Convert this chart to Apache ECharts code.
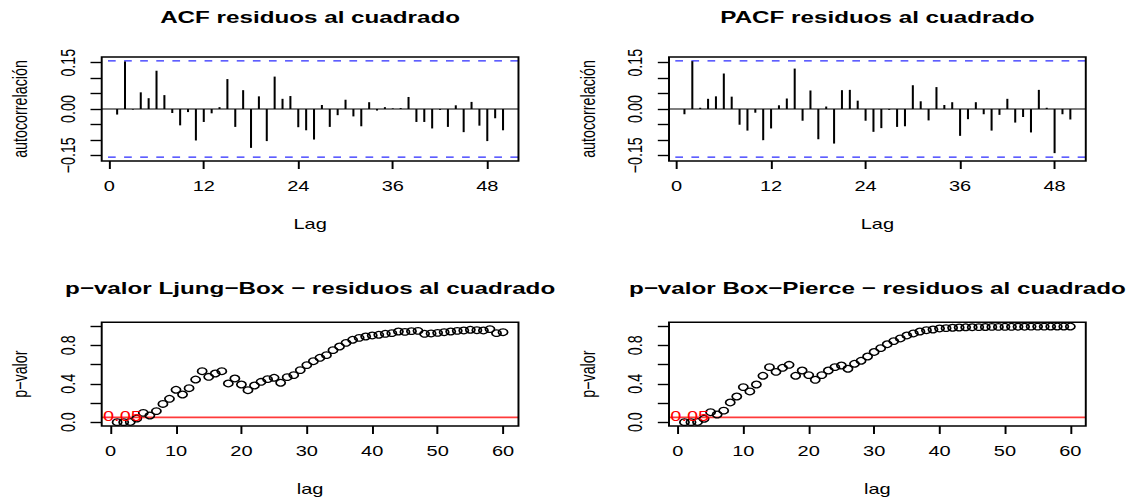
<!DOCTYPE html>
<html><head><meta charset="utf-8">
<script src="https://cdn.jsdelivr.net/npm/echarts@6/dist/echarts.min.js"></script>
<style>
html,body{margin:0;padding:0;background:#fff;overflow:hidden;}
#wrap{width:1135px;height:502px;overflow:hidden;background:#fff;}
#chart{width:811px;height:502px;transform:scaleX(1.39951);transform-origin:0 0;}
</style></head><body><div id="wrap"><div id="chart"></div></div>
<script>
// ---- data ----
const acfValues = [-0.018,0.154,-0.002,0.054,0.035,0.124,0.045,-0.013,-0.053,-0.010,
  -0.102,-0.042,-0.014,0.006,0.097,-0.058,0.061,-0.126,0.041,-0.104,
  0.105,0.033,0.042,-0.059,-0.069,-0.099,0.013,-0.058,-0.020,0.030,
  -0.024,-0.056,0.022,-0.005,0.006,0.002,0.003,0.039,-0.042,-0.042,
  -0.063,-0.003,-0.058,0.012,-0.075,0.023,-0.054,-0.104,-0.030,-0.069];
const pacfValues = [-0.017,0.155,0.004,0.033,0.041,0.115,0.040,-0.051,-0.070,-0.012,
  -0.101,-0.063,0.012,0.034,0.131,-0.038,0.060,-0.098,0.008,-0.112,
  0.061,0.062,0.027,-0.038,-0.074,-0.062,-0.003,-0.058,-0.056,0.077,
  0.025,-0.037,0.071,0.013,0.022,-0.087,-0.033,0.022,-0.017,-0.070,
  -0.019,0.033,-0.044,-0.026,-0.076,0.062,0.004,-0.143,-0.017,-0.034];
const ljungBoxP = [0.000,0.000,0.002,0.038,0.097,0.069,0.115,0.190,0.243,0.337,
  0.288,0.354,0.444,0.531,0.472,0.507,0.531,0.403,0.455,0.392,
  0.333,0.382,0.420,0.448,0.462,0.410,0.469,0.490,0.542,0.594,
  0.635,0.670,0.698,0.750,0.788,0.826,0.858,0.878,0.892,0.903,
  0.910,0.920,0.927,0.944,0.940,0.948,0.951,0.920,0.924,0.930,
  0.937,0.944,0.951,0.955,0.962,0.958,0.955,0.969,0.927,0.937];
const boxPierceP = [0.000,0.000,0.002,0.035,0.104,0.080,0.120,0.205,0.267,0.365,
  0.320,0.392,0.483,0.573,0.524,0.566,0.597,0.483,0.538,0.490,
  0.441,0.490,0.538,0.573,0.590,0.556,0.608,0.639,0.684,0.731,
  0.771,0.812,0.844,0.872,0.903,0.924,0.944,0.958,0.965,0.976,
  0.979,0.983,0.986,0.988,0.989,0.990,0.991,0.992,0.992,0.993,
  0.993,0.994,0.994,0.995,0.995,0.995,0.996,0.996,0.996,0.996];
const ciLevel = 0.156;
const pThreshold = 0.05;
const acfLagTicks = [0,12,24,36,48];
const pLagTicks = [0,10,20,30,40,50,60];
const acfYTicks = [-0.15,-0.10,-0.05,0,0.05,0.10,0.15];
const acfYLabels = [-0.15,0,0.15];
const pYTicks = [0,0.2,0.4,0.6,0.8,1.0];
const pYLabels = [0,0.4,0.8];
const acfXRange = [-0.96, 51.96];
const pXRange = [-1.36, 62.36];
const acfYRange = [-0.1685, 0.1685];
const pYRange = [-0.04, 1.04];
const titles = ['ACF residuos al cuadrado','PACF residuos al cuadrado',
  'p\u2212valor Ljung\u2212Box \u2212 residuos al cuadrado',
  'p\u2212valor Box\u2212Pierce \u2212 residuos al cuadrado'];

// ---- layout (unstretched coordinates) ----
const FONT = '"Liberation Sans", Arial, Helvetica, sans-serif';
const AX = 14.3;
const L = [72.67, 478.03], W = 297.8;
const TOPS = [57, 322.3], HS = [104, 103.7];

const chart = echarts.init(document.getElementById('chart'), null, {renderer:'svg'});

function grid(col,row){
  return {left:L[col], top:TOPS[row], width:W, height:HS[row], show:true,
    borderColor:'#000', borderWidth:1.4, backgroundColor:'rgba(0,0,0,0)',
    outerBoundsMode:'none', containLabel:false, z:5};
}
function xAxis(gi,range,ticks,name){
  return {type:'value', gridIndex:gi, min:range[0], max:range[1], name:name,
    nameLocation:'middle', nameGap:56,
    nameTextStyle:{fontSize:AX, color:'#000', fontFamily:FONT},
    axisLine:{show:false, onZero:false},
    axisTick:{show:true, length:8, customValues:ticks, lineStyle:{color:'#000', width:1.4}},
    axisLabel:{show:true, customValues:ticks, margin:18, fontSize:AX, color:'#000', fontFamily:FONT},
    splitLine:{show:false}};
}
function yAxis(gi,range,ticks,labels,fmt,name){
  return {type:'value', gridIndex:gi, min:range[0], max:range[1], name:name,
    nameLocation:'middle', nameGap:51, nameRotate:90,
    nameTextStyle:{fontSize:AX, color:'#000', fontFamily:FONT},
    axisLine:{show:false, onZero:false},
    axisTick:{show:true, length:8, customValues:ticks, lineStyle:{color:'#000', width:1.4}},
    axisLabel:{show:true, customValues:labels, rotate:90, margin:17, fontSize:AX, color:'#000', fontFamily:FONT, formatter:fmt},
    splitLine:{show:false}};
}
const fmtAcf = v => v === 0 ? '0.00' : (v < 0 ? '\u2212' : '') + Math.abs(v).toFixed(2);
const fmtP = v => v.toFixed(1);

function refLine(gi, xr, y, color, width, dashed){
  return {type:'line', xAxisIndex:gi, yAxisIndex:gi, silent:true, symbol:'none',
    data:[[xr[0], y],[xr[1], y]], clip:true, z:3,
    lineStyle:{color:color, width:width, type: dashed ? [5.5,6] : 'solid', dashOffset: dashed ? 6.8 : 0}};
}
function acfSeries(vals, gi){
  return [
    {type:'bar', xAxisIndex:gi, yAxisIndex:gi, barWidth:1.45,
      data: vals.map((v,i)=>[i+1, v]), itemStyle:{color:'#000'}, silent:true, z:4},
    refLine(gi, acfXRange, ciLevel, '#2a2aff', 1.2, true),
    refLine(gi, acfXRange, -ciLevel, '#2a2aff', 1.2, true),
    refLine(gi, acfXRange, 0, '#000', 1.1, false)
  ];
}
function pSeries(vals, gi){
  return [
    {type:'scatter', xAxisIndex:gi, yAxisIndex:gi, symbol:'circle', symbolSize:6.6,
      data: vals.map((v,i)=>[i+1, v]), clip:false, z:4,
      itemStyle:{color:'rgba(0,0,0,0)', borderColor:'#000', borderWidth:1.25, opacity:1}, silent:true},
    refLine(gi, pXRange, pThreshold, '#ff3a3a', 1.6, false)
  ];
}

const gtext = (x,y,text,opt) => Object.assign({type:'text', x:x, y:y, silent:true, z:10,
  style:Object.assign({text:text, fill:'#000', fontFamily:FONT, align:'center', verticalAlign:'middle'}, opt||{})});

const option = {
  animation:false,
  backgroundColor:'#fff',
  textStyle:{fontFamily:FONT},
  grid:[grid(0,0), grid(1,0), grid(0,1), grid(1,1)],
  xAxis:[xAxis(0,acfXRange,acfLagTicks,'Lag'), xAxis(1,acfXRange,acfLagTicks,'Lag'),
         xAxis(2,pXRange,pLagTicks,'lag'), xAxis(3,pXRange,pLagTicks,'lag')],
  yAxis:[yAxis(0,acfYRange,acfYTicks,acfYLabels,fmtAcf,'autocorrelaci\u00f3n'),
         yAxis(1,acfYRange,acfYTicks,acfYLabels,fmtAcf,'autocorrelaci\u00f3n'),
         yAxis(2,pYRange,pYTicks,pYLabels,fmtP,'p\u2212valor'),
         yAxis(3,pYRange,pYTicks,pYLabels,fmtP,'p\u2212valor')],
  series:[].concat(acfSeries(acfValues,0), acfSeries(pacfValues,1), pSeries(ljungBoxP,2), pSeries(boxPierceP,3)),
  graphic:[
    gtext(L[0]+W/2, 17, titles[0], {fontSize:17.3, fontWeight:'bold'}),
    gtext(L[1]+W/2, 17, titles[1], {fontSize:17.3, fontWeight:'bold'}),
    gtext(L[0]+W/2, 287.8, titles[2], {fontSize:17.3, fontWeight:'bold'}),
    gtext(L[1]+W/2, 287.8, titles[3], {fontSize:17.3, fontWeight:'bold'}),
    gtext(L[0]+0.9, 416, String(pThreshold), {fontSize:AX, fill:'#ff0000', align:'left'}),
    gtext(L[1]+0.9, 416, String(pThreshold), {fontSize:AX, fill:'#ff0000', align:'left'})
  ]
};
chart.setOption(option);
</script>
</body></html>
